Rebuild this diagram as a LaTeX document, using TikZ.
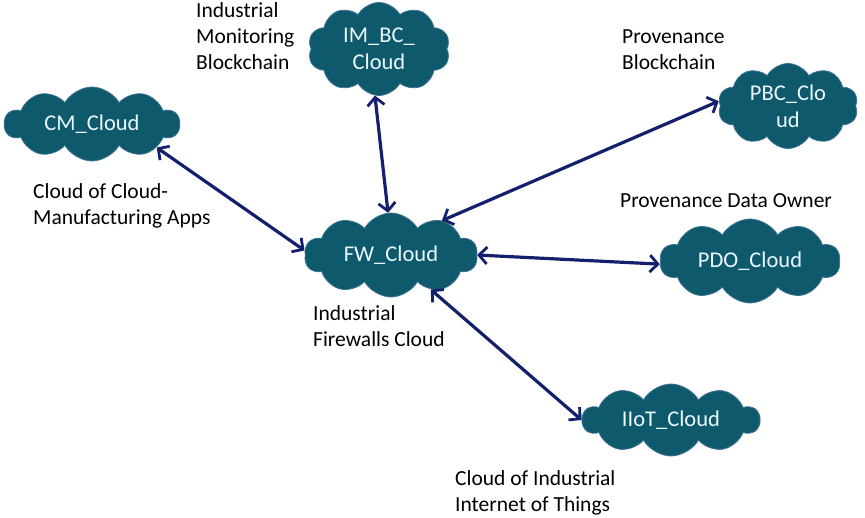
\documentclass[tikz,border=0pt]{standalone}
\usepackage{fontspec}
\setmainfont{Carlito}
\usetikzlibrary{shapes.symbols}
\usetikzlibrary{arrows.meta}
\definecolor{cloudfill}{HTML}{0F596C}
\definecolor{cloudrim}{HTML}{3D7396}
\definecolor{linkblue}{HTML}{15206C}
\tikzset{
  cloudnode/.style={cloud,cloud puffs=10,cloud puff arc=120,cloud ignores aspect,
    fill=cloudfill,draw=cloudrim,line width=0.8pt,text=white!92!cyan,
    inner sep=0pt,align=center,font=\fontsize{22.5}{27}\selectfont},
  caption/.style={anchor=north west,inner sep=0pt,align=left,
    font=\fontsize{21.5}{26}\selectfont},
  link/.style={<->,draw=linkblue,line width=3.2pt}
}
\begin{document}
\begin{tikzpicture}[x=1pt,y=-1pt,>={Straight Barb[length=8pt,width=17pt,line width=2.8pt]}]
\useasboundingbox (0,0) rectangle (865,518);
% The clouds
\node[cloudnode,minimum width=175,minimum height=74] (cm) at (92,124) {CM\_Cloud};
\node[cloudnode,minimum width=142,minimum height=93] (imbc) at (379,49) {IM\_BC\_\\Cloud};
\node[cloudnode,minimum width=140,minimum height=85] (pbc) at (788,106) {PBC\_Clo\\ud};
\node[cloudnode,minimum width=173,minimum height=84] (fw) at (391,255) {FW\_Cloud};
\node[cloudnode,minimum width=180,minimum height=84] (pdo) at (750,261) {PDO\_Cloud};
\node[cloudnode,minimum width=177,minimum height=72] (iiot) at (671,420) {IIoT\_Cloud};
% The captions
\node[caption] (imbctext) at (196,2) {Industrial\\Monitoring\\Blockchain};
\node[caption] (pbctext) at (622,30) {Provenance\\Blockchain};
\node[caption] (cmtext) at (33,183) {Cloud of Cloud-\\Manufacturing Apps};
\node[caption] (pdotext) at (620,193) {Provenance Data Owner};
\node[caption] (fwtext) at (313,305) {Industrial\\Firewalls Cloud};
\node[caption] (iiottext) at (455,470) {Cloud of Industrial\\Internet of Things};
% The links
\draw[link] (cm.340) -- (fw.177);
\draw[link] (imbc.265) -- (fw.94);
\draw[link] (pbc.176) -- (fw.34);
\draw[link] (fw.0) -- (pdo.182);
\draw[link] (fw.319) -- (iiot.180);
\end{tikzpicture}
\end{document}
